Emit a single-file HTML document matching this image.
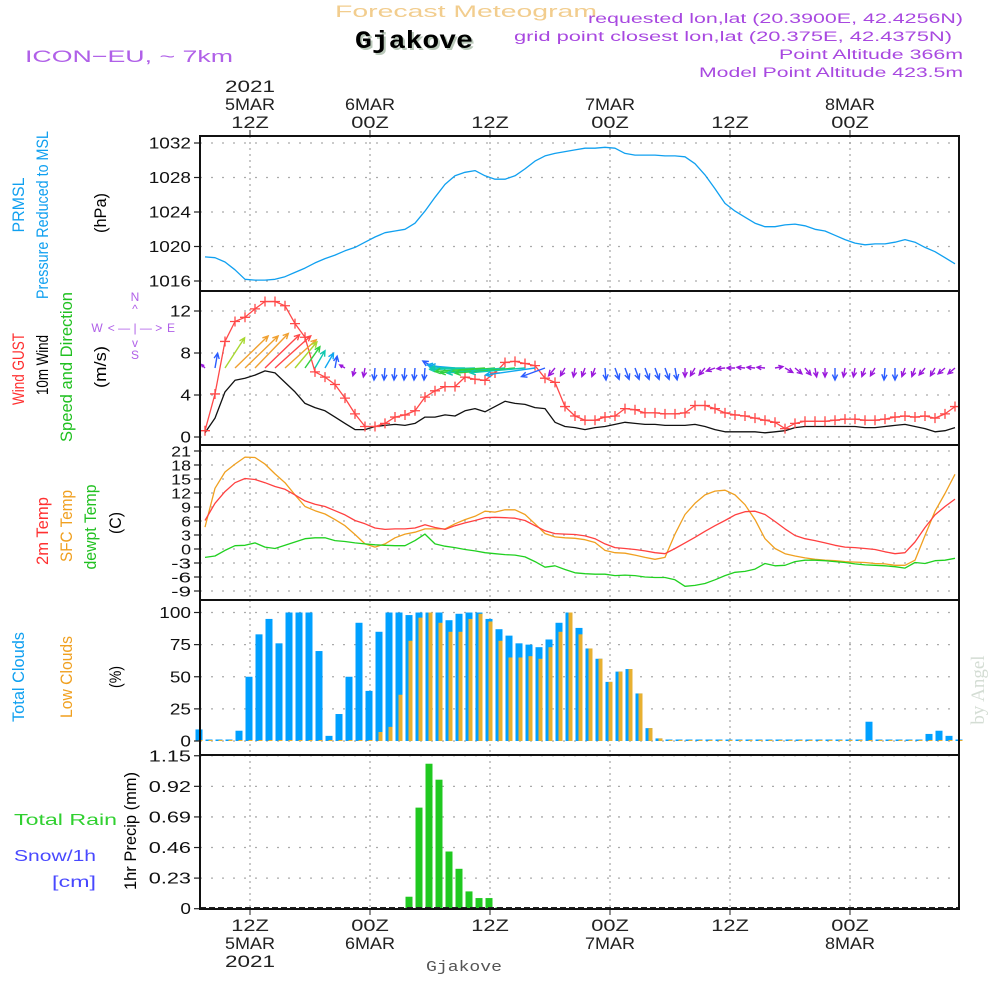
<!DOCTYPE html>
<html><head><meta charset="utf-8"><style>
html,body{margin:0;padding:0;background:#fff;}
svg{display:block;font-family:"Liberation Sans",sans-serif;}
</style></head><body>
<svg id="chart" width="1000" height="1000" viewBox="0 0 1000 1000" xmlns="http://www.w3.org/2000/svg">
<g id="header">
<text x="335" y="17" fill="#f2cd8e" font-size="17" textLength="262" lengthAdjust="spacingAndGlyphs">Forecast Meteogram</text>
<text x="357" y="50" fill="#b9c8b9" font-family="Liberation Mono,monospace" font-weight="bold" font-size="25" textLength="118" lengthAdjust="spacingAndGlyphs">Gjakove</text>
<text x="355" y="48" fill="#000" font-family="Liberation Mono,monospace" font-weight="bold" font-size="25" textLength="118" lengthAdjust="spacingAndGlyphs">Gjakove</text>
<text x="25" y="62" fill="#b060e8" font-size="17" textLength="208" lengthAdjust="spacingAndGlyphs">ICON−EU, ~ 7km</text>
<text x="588" y="23" fill="#a848e0" font-size="13.5" textLength="375" lengthAdjust="spacingAndGlyphs">requested lon,lat (20.3900E, 42.4256N)</text>
<text x="514" y="41" fill="#a848e0" font-size="13.5" textLength="438" lengthAdjust="spacingAndGlyphs">grid point closest lon,lat (20.375E, 42.4375N)</text>
<text x="779" y="59" fill="#a848e0" font-size="13.5" textLength="184" lengthAdjust="spacingAndGlyphs">Point Altitude 366m</text>
<text x="699" y="77" fill="#a848e0" font-size="13.5" textLength="264" lengthAdjust="spacingAndGlyphs">Model Point Altitude 423.5m</text>
<text transform="translate(984,690) rotate(-90)" text-anchor="middle" fill="#d4ddd4" font-family="Liberation Serif,serif" font-size="19">by Angel</text>
<text x="426" y="971" fill="#555" font-family="Liberation Mono,monospace" font-size="15" textLength="76" lengthAdjust="spacingAndGlyphs">Gjakove</text>
</g>
<g id="labels"></g>
<g id="grid"></g>
<g id="marks"></g>
<g id="frame"></g>
</svg>
<script>
// ---- data (hourly, from 07Z 5MAR) ----
const pressure = [1018.8,1018.7,1018.2,1017.3,1016.2,1016.1,1016.1,1016.2,1016.5,1017.0,1017.5,1018.1,1018.6,1019.0,1019.5,1019.9,1020.5,1021.1,1021.6,1021.8,1022.0,1022.7,1024.1,1025.7,1027.2,1028.2,1028.6,1028.8,1028.2,1027.8,1027.8,1028.2,1029.0,1029.9,1030.5,1030.8,1031.0,1031.2,1031.4,1031.4,1031.5,1031.4,1030.8,1030.6,1030.6,1030.6,1030.5,1030.5,1030.4,1029.6,1028.3,1026.7,1025.0,1024.1,1023.4,1022.7,1022.3,1022.3,1022.5,1022.6,1022.4,1022.0,1021.8,1021.3,1020.8,1020.4,1020.2,1020.3,1020.3,1020.5,1020.8,1020.5,1019.9,1019.4,1018.7,1018.0];
const gust = [0.6,4.1,9.1,11.0,11.4,12.2,12.9,12.9,12.5,10.8,9.5,6.2,5.7,5.0,3.7,2.2,1.0,1.0,1.3,1.9,2.1,2.5,3.8,4.4,4.8,4.8,5.7,5.5,5.4,6.1,7.1,7.2,7.0,6.8,5.6,5.2,2.9,2.0,1.6,1.6,1.9,2.0,2.7,2.6,2.3,2.3,2.2,2.2,2.3,3.0,3.0,2.7,2.3,2.1,2.0,1.8,1.6,1.4,0.8,1.3,1.5,1.5,1.5,1.6,1.7,1.7,1.6,1.6,1.7,1.9,2.0,1.9,2.0,1.8,2.2,2.9];
const wind10m = [0.4,1.8,4.3,5.4,5.6,5.9,6.3,6.1,5.2,4.3,3.2,2.8,2.5,1.9,1.3,0.7,0.7,1.0,1.1,1.2,1.1,1.3,1.9,1.9,2.1,2.0,2.5,2.7,2.4,2.9,3.4,3.2,3.1,2.8,2.7,1.4,1.0,0.9,0.7,0.9,1.0,1.2,1.4,1.3,1.2,1.2,1.1,1.1,1.1,1.2,1.0,0.7,0.5,0.5,0.5,0.5,0.4,0.5,0.6,0.9,1.0,1.0,1.0,1.0,1.0,1.0,0.9,0.9,1.0,1.1,1.2,1.0,0.8,0.5,0.6,0.9];
const arrowDir = [315,10,33,46,46,44,46,48,48,40,35,30,30,10,300,195,190,185,185,185,185,185,185,300,280,275,270,268,266,265,265,265,265,262,250,220,210,190,200,200,175,160,160,160,160,160,160,170,180,210,220,250,265,270,275,275,275,80,120,130,140,170,180,180,190,190,200,210,185,180,200,200,220,210,230,230];
const arrowLen = [5,15,36,46,46,48,48,48,42,34,26,20,17,12,6,8,9,12,12,12,12,12,12,14,18,25,35,45,50,55,58,60,55,50,25,10,9,9,9,9,12,12,12,12,12,12,12,12,9,9,9,9,8,8,8,8,8,8,9,9,9,9,9,12,9,9,9,9,12,12,9,9,9,9,9,9];
const arrowSpd = [1,3,5.2,5.7,5.7,5.8,6.2,6.2,5.8,5.2,4.8,4.2,3.8,3,1,1,1.5,2.5,2.5,2.5,2.5,2.5,2.5,3,3.5,3.8,4,4.2,4.8,4.8,4.5,4.8,4.2,3.8,3,1.5,1.5,1.5,1.5,1.5,2.6,2.6,2.6,2.6,2.6,2.6,2.6,2.6,1.5,1.5,1.5,1.5,1.5,1.5,1.5,1.5,1.5,1.5,1.5,1.5,1.5,1.5,1.5,2.6,1.5,1.5,1.5,1.5,2.6,2.6,1.5,1.5,1.5,1.5,1.5,1.5];
const temp2m = [6.1,9.8,12.3,14.2,15.1,14.9,14.2,13.4,12.8,11.6,10.3,9.6,9.1,8.2,7.3,6.1,5.4,4.5,4.2,4.3,4.3,4.5,5.2,4.6,4.2,5.0,5.6,6.1,6.7,6.8,6.7,6.6,6.1,5.0,3.9,3.3,3.2,3.1,2.8,2.2,1.1,0.3,0.1,-0.1,-0.4,-0.8,-1.0,0.1,1.3,2.5,3.8,5.0,6.1,7.3,8.0,8.1,7.4,5.9,4.3,2.9,2.2,1.8,1.3,0.8,0.4,0.3,0.1,-0.1,-0.6,-1.0,-0.8,1.5,4.6,7.3,9.1,10.7];
const tempSfc = [4.7,13.0,16.5,18.2,19.7,19.6,18.2,16.1,14.2,11.6,9.1,8.2,7.5,6.3,5.0,3.1,1.1,0.4,1.1,2.4,3.2,3.6,4.3,4.3,4.3,5.4,6.3,7.0,8.1,7.9,8.4,8.4,7.4,5.4,3.3,2.6,2.4,2.3,2.0,1.4,-0.3,-0.8,-0.9,-1.3,-1.8,-2.2,-1.8,3.2,7.4,9.8,11.6,12.4,12.6,11.6,9.5,6.3,2.2,0.1,-1.0,-1.5,-1.9,-2.2,-2.4,-2.5,-2.7,-2.8,-2.9,-3.1,-3.2,-3.5,-3.5,-2.4,2.9,8.1,11.9,16.0];
const dewpt = [-1.8,-1.5,-0.3,0.7,0.8,1.3,0.4,0.1,0.8,1.5,2.2,2.4,2.4,1.8,1.6,1.3,1.1,0.9,0.8,0.7,0.7,1.8,3.2,1.1,0.6,0.3,-0.1,-0.4,-0.8,-1.0,-1.2,-1.3,-1.7,-2.7,-3.9,-3.6,-4.4,-5.1,-5.3,-5.4,-5.4,-5.7,-5.6,-5.7,-6.0,-6.1,-6.1,-6.6,-8.0,-7.8,-7.4,-6.6,-5.7,-5.0,-4.8,-4.3,-3.1,-3.6,-3.5,-2.7,-2.4,-2.4,-2.5,-2.7,-2.9,-3.2,-3.4,-3.5,-3.6,-3.8,-4.1,-2.9,-3.1,-2.5,-2.4,-2.0];
const totalClouds = [9,0,0,0,8,50,83,95,76,100,100,100,70,4,21,50,92,39,85,100,100,98,100,100,100,94,99,100,100,95,87,82,76,75,73,79,92,100,88,72,64,46,54,56,37,10,2,0,0,0,0,0,0,0,0,0,0,0,0,0,0,0,0,0,0,0,0,15,0,0,0,0,0,5.5,8,4,1];
const lowClouds = [0,0,0,0,0,0,0,0,0,0,0,0,0,0,0,0,0,0,7,11,36,78,96,100,92,85,85,95,99,93,78,65,65,66,64,73,85,100,83,72,64,46,54,56,37,10,2,0,0,0,0,0,0,0,0,0,0,0,0,0,0,0,0,0,0,0,0,0,0,0,0,0,0,0,0,0,0];
const precip = [0,0,0,0,0,0,0,0,0,0,0,0,0,0,0,0,0,0,0,0,0,0.09,0.76,1.09,0.97,0.43,0.30,0.13,0.08,0.08,0.01,0,0,0,0,0,0,0,0,0,0,0,0,0,0,0,0,0,0,0,0,0,0,0,0,0,0,0,0,0,0,0,0,0,0,0,0,0,0,0,0,0,0,0,0,0,0];
const pressTicks = [1016,1020,1024,1028,1032];
const windTicks = [0,4,8,12];
const tempTicks = [-9,-6,-3,0,3,6,9,12,15,18,21];
const cloudTicks = [0,25,50,75,100];
const precipTicks = [0,0.23,0.46,0.69,0.92,1.15];
const timeHours = [5,17,29,41,53,65];
const timeTop = [["2021","5MAR","12Z"],["","6MAR","00Z"],["","","12Z"],["","7MAR","00Z"],["","","12Z"],["","8MAR","00Z"]];
const timeBottom = [["12Z","5MAR","2021"],["00Z","6MAR",""],["12Z","",""],["00Z","7MAR",""],["12Z","",""],["00Z","8MAR",""]];

// ---- axis functions ----
const X0 = 200, XR = 959;
const xLine = k => 205 + 10*k;
const xBar = k => 199 + 10*k;
const xTime = h => 200 + 10*h;
const yP = p => 281 - (p-1016)*8.625;
const yW = v => 437 - v*10.5;
const yT = t => 591 - (t+9)*4.667;
const yC = c => 741 - c*1.285;
const yR = r => 908.7 - r*133;
const panels = [[136,291],[291,445],[445,600],[600,755],[755,909]];

const NS = "http://www.w3.org/2000/svg";
function mk(parent, tag, attrs, text){
  const e = document.createElementNS(NS, tag);
  for (const a in attrs) e.setAttribute(a, attrs[a]);
  if (text !== undefined) e.textContent = text;
  parent.appendChild(e); return e;
}
const gLab = document.getElementById('labels');
const gGrid = document.getElementById('grid');
const gMarks = document.getElementById('marks');
const gFrame = document.getElementById('frame');

timeHours.forEach((h,i)=>{
  const x = xTime(h);
  panels.forEach(p=>{
    const l = mk(gGrid,'line',{x1:x,x2:x,y1:p[0],y2:p[1],stroke:'#aaa','stroke-width':1.3,'stroke-dasharray':'2,4'});
    
    
  });
  const t1 = mk(gFrame,'line',{x1:x,x2:x,y1:130,y2:136,stroke:'#222','stroke-width':1});
  
  
  const t2 = mk(gFrame,'line',{x1:x,x2:x,y1:909,y2:915,stroke:'#222','stroke-width':1});
  
  
  const tops=[92,110,128];
  timeTop[i].forEach((s,j)=>{ if(!s) return;
    const t = mk(gLab,'text',{x:x,y:tops[j],'text-anchor':'middle','font-size':17,fill:'#222',textLength:s.length*12.5,lengthAdjust:'spacingAndGlyphs'},s);
    
    
  });
  const bots=[931,949,967];
  timeBottom[i].forEach((s,j)=>{ if(!s) return;
    const t = mk(gLab,'text',{x:x,y:bots[j],'text-anchor':'middle','font-size':17,fill:'#222',textLength:s.length*12.5,lengthAdjust:'spacingAndGlyphs'},s);
    
    
  });
});

function yTicks(ticks, f, fmt, fs){
  ticks.forEach(v=>{
    const y = f(v);
    const g = mk(gGrid,'line',{x1:X0,x2:XR,y1:y,y2:y,stroke:'#aaa','stroke-width':1.3,'stroke-dasharray':'2,9'});
    
    
    const tk = mk(gFrame,'line',{x1:X0-6,x2:X0,y1:y,y2:y,stroke:'#222','stroke-width':1.2});
    
    
    const s = fmt(v);
    const t = mk(gLab,'text',{x:X0-9,y:y+5.5,'text-anchor':'end','font-size':fs,fill:'#111',textLength:s.length*(fs*0.66),lengthAdjust:'spacingAndGlyphs'},s);
    
    
  });
}
yTicks(pressTicks,yP,v=>String(v),16);
yTicks(windTicks,yW,v=>String(v),16);
yTicks(tempTicks,yT,v=>String(v),15);
yTicks(cloudTicks,yC,v=>String(v),16);
yTicks(precipTicks,yR,v=>v===0?"0":v.toFixed(2),16);

function rot(x,y,len,color,s,name){
  const t = mk(gLab,'text',{transform:`translate(${x},${y}) rotate(-90)`,'text-anchor':'middle','font-size':17,fill:color,textLength:len,lengthAdjust:'spacingAndGlyphs'},s);
  
  
}
rot(24,205,55,'#10a0f0','PRMSL','prmsl-label');
rot(48,215,168,'#10a0f0','Pressure Reduced to MSL','pressure-axis-title');
rot(106,213,40,'#000','(hPa)','pressure-unit');
rot(24,369,72,'#ff3030','Wind GUST','gust-label');
rot(48,365,60,'#000','10m Wind','wind10m-label');
rot(72,367,150,'#20c020','Speed and Direction','wind-direction-label');
rot(106,367,42,'#000','(m/s)','wind-unit');
rot(48,531,68,'#ff3030','2m Temp','temp2m-label');
rot(72,526,72,'#f0a020','SFC Temp','sfc-temp-label');
rot(96,527,85,'#20c020','dewpt Temp','dewpt-label');
rot(121,523,22,'#000','(C)','temp-unit');
rot(24,677,90,'#10a0f0','Total Clouds','total-clouds-label');
rot(72,677,82,'#f0a020','Low Clouds','low-clouds-label');
rot(121,677,22,'#000','(%)','cloud-unit');
rot(136,831,118,'#000','1hr Precip (mm)','precip-axis-title');
[['Total   Rain',14,825,103,'#30d030','rain-legend'],['Snow/1h',14,861,82,'#4848ff','snow-legend'],['[cm]',52,887,44,'#4848ff','snow-unit']].forEach(a=>{
  const t = mk(gLab,'text',{x:a[1],y:a[2],'font-size':16,fill:a[4],textLength:a[3],lengthAdjust:'spacingAndGlyphs'},a[0]);
  
  
});
[['N',135,301],['^',135,313],['W',97,332],['< — | — >',135,332],['E',171,332],['v',135,347],['S',135,359]].forEach(a=>{
  const t = mk(gLab,'text',{x:a[1],y:a[2],'text-anchor':'middle','font-size':12,fill:'#b060e8'},a[0]);
  
  
});

function poly(data, fy, color, name, w){
  const pts = data.map((v,k)=>`${xLine(k)},${fy(v).toFixed(1)}`).join(' ');
  const p = mk(gMarks,'polyline',{points:pts,fill:'none',stroke:color,'stroke-width':w||1.3,'stroke-linejoin':'round'});
  
  
}
poly(pressure,yP,'#10a0f0','pressure-line');
poly(wind10m,yW,'#111','wind10m-line');
poly(gust,yW,'#ff4848','gust-line');
gust.forEach((v,k)=>{
  const x=xLine(k), y=yW(v);
  const m = mk(gMarks,'path',{d:`M${x-5},${y}H${x+5}M${x},${y-5}V${y+5}`,stroke:'#ff4848','stroke-width':1.3});
  
  
});
function spdColor(s){
  if(s<2) return '#9a18dc'; if(s<3.2) return '#2a5cff'; if(s<4) return '#10a8f0';
  if(s<4.6) return '#10c8b0'; if(s<5) return '#30d040'; if(s<5.5) return '#a8d830';
  if(s<6) return '#f0a030'; return '#ff4848';
}
arrowDir.forEach((d,k)=>{
  const x0=xLine(k), y0=368, L=arrowLen[k], r=d*Math.PI/180;
  const x1=x0+L*Math.sin(r), y1=y0-L*Math.cos(r);
  const h=Math.min(6,L*0.6), a1=r+Math.PI-0.45, a2=r+Math.PI+0.45;
  const dpath=`M${x0},${y0}L${x1.toFixed(1)},${y1.toFixed(1)}M${(x1+h*Math.sin(a1)).toFixed(1)},${(y1-h*Math.cos(a1)).toFixed(1)}L${x1.toFixed(1)},${y1.toFixed(1)}L${(x1+h*Math.sin(a2)).toFixed(1)},${(y1-h*Math.cos(a2)).toFixed(1)}`;
  const p = mk(gMarks,'path',{d:dpath,fill:'none',stroke:spdColor(arrowSpd[k]),'stroke-width':1.4});
  
  
});
poly(tempSfc,yT,'#f0a020','sfc-temp-line');
poly(temp2m,yT,'#ff4040','temp2m-line');
poly(dewpt,yT,'#20d020','dewpt-line');
totalClouds.forEach((c,k)=>{
  const y=yC(c), h=Math.max(1.5,741-y);
  const b = mk(gMarks,'rect',{x:xBar(k)-3.5,y:741-h,width:7,height:h,fill:'#00a0ff'});
  
  
});
lowClouds.forEach((c,k)=>{
  const y=yC(c), h=Math.max(1,741-y);
  const b = mk(gMarks,'rect',{x:xBar(k)-0.5,y:741-h,width:4,height:h,fill:'#e8b030'});
  
  
});
precip.forEach((r,k)=>{
  if(r<=0) return;
  const y=yR(r);
  const b = mk(gMarks,'rect',{x:xBar(k)-3.5,y:y,width:7,height:908.7-y,fill:'#20c820'});
  
  
});
const base = mk(gMarks,'line',{x1:X0,x2:XR,y1:908,y2:908,stroke:'#222','stroke-width':2,'stroke-dasharray':'6,3'});



panels.forEach(p=>{
  const r = mk(gFrame,'rect',{x:X0,y:p[0],width:XR-X0,height:p[1]-p[0],fill:'none',stroke:'#111','stroke-width':2});
  
  
});
</script>
</body></html>
